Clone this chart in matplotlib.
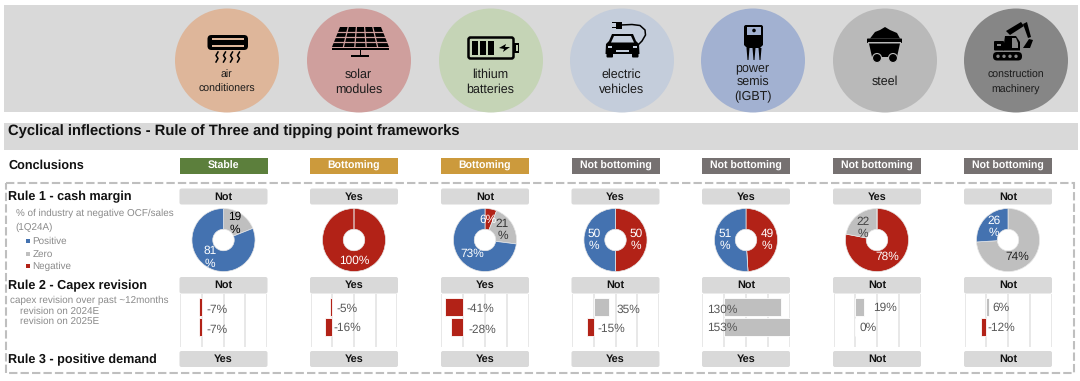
import matplotlib
matplotlib.use("Agg")
import matplotlib.pyplot as plt
from matplotlib.patches import Circle, FancyBboxPatch, Polygon, Rectangle

plt.rcParams['font.family'] = ['Liberation Sans', 'DejaVu Sans']
plt.rcParams['text.hinting'] = 'no_hinting'

industries = ["air\nconditioners", "solar\nmodules", "lithium\nbatteries", "electric\nvehicles",
              "power\nsemis\n(IGBT)", "steel", "construction\nmachinery"]
conclusions = ["Stable", "Bottoming", "Bottoming", "Not bottoming", "Not bottoming", "Not bottoming", "Not bottoming"]
rule_1 = ["Not", "Yes", "Not", "Yes", "Yes", "Yes", "Not"]
rule_2 = ["Not", "Yes", "Yes", "Not", "Not", "Not", "Not"]
rule_3 = ["Yes", "Yes", "Yes", "Yes", "Yes", "Not", "Not"]

# share of industry, clockwise from 12 o'clock
negative = [0, 100, 6, 50, 49, 78, 0]
zero = [19, 0, 21, 0, 0, 22, 74]
positive = [81, 0, 73, 50, 51, 0, 26]

revision_2024 = [-7, -5, -41, 35, 130, 19, 6]
revision_2025 = [-7, -16, -28, -15, 153, 0, -12]

W, H = 1080, 381
col_x = [223.5, 354, 485, 615.5, 746, 877, 1008]
circle_x = [227, 359, 491, 622, 753, 885, 1016]
circle_colors = ['#deb69a', '#cf9f9d', '#c5d4b6', '#c4cddb', '#a2b1d1', '#b9b9b9', '#868686']
conclusion_colors = {"Stable": '#5c7f3c', "Bottoming": '#cc9a3c', "Not bottoming": '#767171'}
BLUE, GREY, RED = '#4472b0', '#bfbfbf', '#b22217'
BAND = '#d9d9d9'
NOTE = '#8a8a8a'

# hand placed labels, same as the source slide
name_sizes = [7.6, 9, 9, 9, 9, 9, 7.6]
pie_labels = [
    [("19\n%", 234.5, 223.5, 'k'), ("81\n%", 210, 257.5, 'w')],
    [("100%", 354, 261, 'w')],
    [("6%", 488, 220, 'w'), ("21\n%", 502.5, 230, '#333333'), ("73%", 472, 254, 'w')],
    [("50\n%", 594, 240, 'w'), ("50\n%", 636, 240, 'w')],
    [("51\n%", 725, 240, 'w'), ("49\n%", 767, 240, 'w')],
    [("22\n%", 863, 228, '#444444'), ("78%", 887.5, 257, 'w')],
    [("26\n%", 994, 227, 'w'), ("74%", 1017, 257, '#222222')],
]
bar_label_pos = [
    [(217, 309.5), (217, 329.5)], [(347, 309), (347, 327.5)], [(480.5, 309), (482, 330)],
    [(628, 309.5), (611.5, 329)], [(722.5, 310), (722, 328)], [(885, 308), (868.5, 328)],
    [(1001, 308), (1001, 328)],
]


def px_axes(fig, x0, y0, x1, y1, zorder):
    return fig.add_axes([x0 / W, 1 - y1 / H, (x1 - x0) / W, (y1 - y0) / H], zorder=zorder)


def rounded(ax, x0, y0, x1, y1, color, r=2.0, **kw):
    ax.add_patch(FancyBboxPatch((x0 + r, y0 + r), x1 - x0 - 2 * r, y1 - y0 - 2 * r,
                                boxstyle=f"round,pad={r},rounding_size={r}", fc=color, ec='none', **kw))


def rect(ax, x0, y0, x1, y1, color='k', **kw):
    ax.add_patch(Rectangle((x0, y0), x1 - x0, y1 - y0, fc=color, ec='none', **kw))


def poly(ax, pts, color='k'):
    ax.add_patch(Polygon(pts, closed=True, fc=color, ec='none'))


def icon_ac(ax):
    rounded(ax, 207.5, 35, 248, 50, 'k', r=4)
    rect(ax, 212, 38, 244, 40, '#deb69a')
    rect(ax, 212, 45, 244, 46.5, '#deb69a')
    for x in [217, 224.5, 231.5, 238.5]:
        ax.plot([x + 1, x - 1, x + 1, x - 1], [52, 55.5, 58.5, 62], color='k', lw=1.1)


def icon_solar(ax):
    poly(ax, [(340, 27), (381, 27), (389, 47), (332, 47)])
    for i in range(1, 4):
        y = 27 + i * 5
        ax.plot([330, 391], [y, y], color='#cf9f9d', lw=0.9)
    for i in range(1, 5):
        ax.plot([340 + i * 8.2, 332 + i * 11.4], [27, 47], color='#cf9f9d', lw=0.9)
    rect(ax, 332, 48, 389, 49.5)
    rect(ax, 359.5, 49.5, 361, 56)
    rect(ax, 351, 55, 369, 56.5)


def icon_battery(ax):
    ax.add_patch(FancyBboxPatch((469, 38), 44, 20, boxstyle="round,pad=0.5,rounding_size=2",
                                fc='none', ec='k', lw=1.8))
    rect(ax, 514, 43, 519, 53)
    rect(ax, 515.5, 45, 517.5, 51, '#c5d4b6')
    for x in [472, 480, 488]:
        rect(ax, x, 41, x + 6, 55)
    poly(ax, [(499, 48), (506, 44), (505, 47), (510, 47), (503, 52), (504, 49)])


def icon_car(ax):
    bgc = '#c4cddb'
    poly(ax, [(612, 34), (633, 34), (636, 41), (639, 44), (639.5, 54), (605.5, 54), (606, 44), (609, 41)])
    rounded(ax, 606.5, 50, 613, 57.5, 'k', r=1)
    rounded(ax, 632, 50, 638.5, 57.5, 'k', r=1)
    poly(ax, [(614, 36), (631, 36), (634, 42.5), (611, 42.5)], bgc)
    rect(ax, 608, 46, 612, 48, bgc)
    rect(ax, 633, 46, 637, 48, bgc)
    rect(ax, 616, 50, 629, 52, bgc)
    rect(ax, 615.5, 21.5, 621.5, 29)
    rect(ax, 611.5, 22, 616, 23.2)
    rect(ax, 611.5, 27, 616, 28.2)
    ax.plot([621, 632, 640, 645, 645.5, 642, 638], [25, 24.5, 25.5, 30, 35, 41, 45], color='k', lw=1.1)


def icon_chip(ax):
    rounded(ax, 744, 25, 763, 38, 'k', r=2)
    rect(ax, 746.5, 27, 761, 35, '#a2b1d1')
    ax.add_patch(Circle((754, 30.5), 1.8, fc='k', ec='none'))
    poly(ax, [(744, 36), (763, 36), (763, 45), (760, 48), (747, 48), (744, 45)])
    for x in [748, 754, 760]:
        poly(ax, [(x - 1.5, 48), (x + 1.5, 48), (x + 0.5, 60), (x - 0.5, 60)])


def icon_cart(ax):
    poly(ax, [(870, 38.5), (875, 32), (880, 30), (885, 27), (890, 30), (897, 33), (900, 38.5)])
    rounded(ax, 867, 38.5, 902, 43, 'k', r=0.8)
    rect(ax, 868, 42.3, 901, 43, '#b9b9b9')
    poly(ax, [(869, 43.5), (900, 43.5), (897, 57), (872, 57)])
    for x in [877, 893]:
        ax.add_patch(Circle((x, 58), 4.5, fc='k', ec='#b9b9b9', lw=0.8))


def icon_excavator(ax):
    bgc = '#868686'
    rounded(ax, 993, 52, 1022, 60.5, 'k', r=4)
    for x in [998, 1004, 1010, 1016]:
        ax.add_patch(Circle((x, 56.3), 1.7, fc=bgc, ec='none'))
    rounded(ax, 994, 41, 1004, 50.5, 'k', r=1)
    rect(ax, 997, 44, 1001, 46, bgc)
    poly(ax, [(1005, 36), (1016, 36), (1020, 42), (1020, 50.5), (1003, 50.5)])
    poly(ax, [(1012, 38), (1016, 38), (1018, 43), (1018, 48), (1012, 48)], bgc)
    poly(ax, [(1006, 31), (1021, 22), (1024, 26), (1010, 35)])
    poly(ax, [(1023, 24), (1027, 22), (1031, 37), (1028, 38)])
    poly(ax, [(1029, 39), (1033, 40), (1030, 48), (1023, 48)])


icons = [icon_ac, icon_solar, icon_battery, icon_car, icon_chip, icon_cart, icon_excavator]


def draw_pie(fig, cx, values):
    ax = px_axes(fig, cx - 32.5, 207.5, cx + 32.5, 272.5, 1)
    ax.pie(values, colors=[RED, GREY, BLUE], startangle=90, counterclock=False, radius=1,
           wedgeprops=dict(width=0.66, edgecolor='#e8e8e8', linewidth=0.5))
    ax.set_xlim(-1.03, 1.03)
    ax.set_ylim(-1.03, 1.03)


def draw_bars(fig, cx, v24, v25):
    ax = px_axes(fig, cx - 43.5, 293.5, cx + 43.5, 346.5, 1)
    vals = [v24, v25]
    colors = [RED if v < 0 else GREY for v in vals]
    ax.barh([0, 1], vals, height=0.92, color=colors, edgecolor='white', linewidth=0.6, zorder=3)
    ax.set_xlim(-50, 150)
    ax.set_ylim(1.985, -0.675)
    ax.set_xticks([-50, 0, 50, 100, 150])
    ax.set_yticks([])
    ax.tick_params(length=0, labelbottom=False)
    ax.grid(axis='x', color='#e4e4e4', lw=1.2, zorder=0)
    ax.set_axisbelow(True)
    ax.patch.set_alpha(0)
    for s in ax.spines.values():
        s.set_visible(False)


def main():
    fig = plt.figure(figsize=(W / 100, H / 100), dpi=100)
    bg = px_axes(fig, 0, 0, W, H, 0)
    fg = px_axes(fig, 0, 0, W, H, 2)
    for ax in (bg, fg):
        ax.set_xlim(0, W)
        ax.set_ylim(H, 0)
        ax.axis('off')

    rect(bg, 3.5, 4.5, 1078, 112, BAND)
    rect(bg, 3.5, 122.5, 1078, 150, BAND)

    for i, cx in enumerate(circle_x):
        bg.add_patch(Circle((cx, 60.5), 52, fc=circle_colors[i], ec='none'))
        icons[i](bg)

    # industry names
    for i, name in enumerate(industries):
        lines = name.split("\n")
        y0 = {1: 82, 2: 75, 3: 67.5}[len(lines)]
        for j, line in enumerate(lines):
            bg.text(circle_x[i] - 0.5, y0 + j * 14.5, line, ha='center', va='center',
                    fontsize=name_sizes[i], color='#1a1a1a')

    fg.text(8, 132, "Cyclical inflections - Rule of Three and tipping point frameworks",
            fontsize=10.65, fontweight='bold', va='center', color='#111111')

    # dashed frame
    bg.add_patch(Rectangle((5.5, 183), 1068.5, 189.5, fc='none', ec='#bfbfbf', lw=1.5, ls=(0, (4, 1.5))))

    for label, y in [("Conclusions", 166), ("Rule 1 - cash margin", 197),
                     ("Rule 2 - Capex revision", 285.5), ("Rule 3 - positive demand", 359.5)]:
        fg.text(8, y, label, fontsize=9.05, fontweight='bold', va='center', color='#111111')

    for txt, x, y in [("% of industry at negative OCF/sales", 15.5, 213), ("(1Q24A)", 15.5, 227),
                      ("Positive", 32.5, 241), ("Zero", 32.5, 254), ("Negative", 32.5, 266)]:
        fg.text(x, y, txt, fontsize=7.15, color=NOTE, va='center')
    for c, y in [(BLUE, 241), (GREY, 254), (RED, 266)]:
        rect(fg, 26, y - 2, 30, y + 2, c)
    for txt, x, y in [("capex revision over past ~12months", 10, 300), ("revision on 2024E", 20.5, 311),
                      ("revision on 2025E", 20.5, 321)]:
        fg.text(x, y, txt, fontsize=7.15, color=NOTE, va='center')

    for i, cx in enumerate(col_x):
        c = conclusions[i]
        rect(bg, cx - 44, 158, cx + 44, 174, conclusion_colors[c])
        bg.text(cx, 166.2, c, color='white', fontweight='bold', fontsize=7.6, ha='center', va='center')

        draw_pie(fig, cx, [negative[i], zero[i], positive[i]])
        for txt, x, y, color in pie_labels[i]:
            fg.text(x, y, txt, color=color, fontsize=8.6, ha='center', va='center', linespacing=1.15)

        draw_bars(fig, cx, revision_2024[i], revision_2025[i])
        for v, (x, y) in zip([revision_2024[i], revision_2025[i]], bar_label_pos[i]):
            fg.text(x, y, f"{v}%", color='#595959', fontsize=8.6, ha='center', va='center')

        # rule boxes go on the top layer so they cover the grid lines
        for y0, y1, word in [(188.5, 204.5, rule_1[i]), (277, 293.5, rule_2[i]), (351, 367, rule_3[i])]:
            rounded(fg, cx - 44, y0, cx + 44, y1, BAND)
            fg.text(cx, (y0 + y1) / 2 + 0.2, word, color='#111111', fontweight='bold', fontsize=7.8,
                    ha='center', va='center')

    fig.savefig("out.png", dpi=100)
    plt.close()


if __name__ == "__main__":
    main()
